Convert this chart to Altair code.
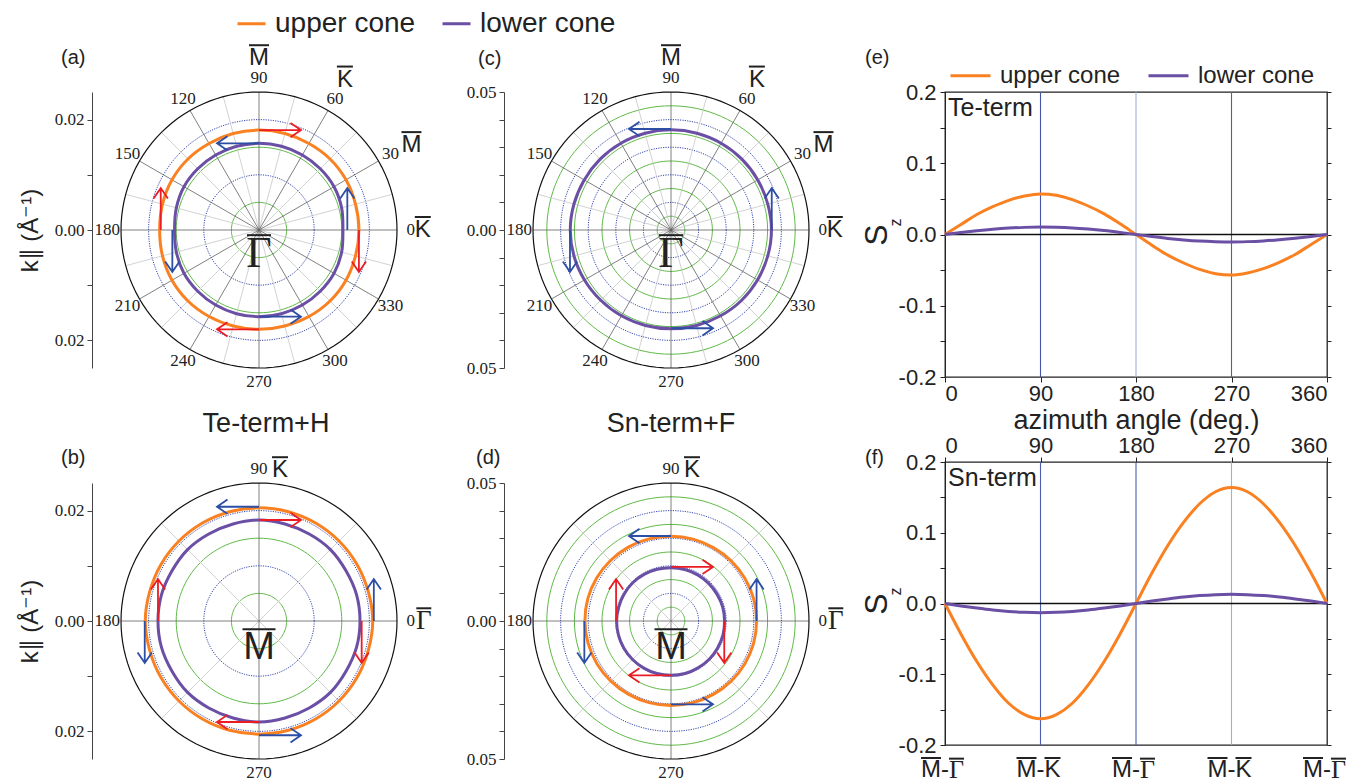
import math
import pandas as pd
import altair as alt

# ---------------------------------------------------------------- data
CONES = ["upper cone", "lower cone"]

# azimuths (deg) at which the constant-energy contours were read
CONTOUR_ANGLES = list(range(0, 360, 15))

# (a) Te-term, contours around Gamma-bar  (k in 1/Angstrom)
A_UPPER = [0.0181, 0.0181, 0.0182, 0.0182, 0.0181, 0.0181, 0.0181, 0.0181,
           0.0181, 0.0182, 0.0182, 0.0181, 0.0180, 0.0181, 0.0182, 0.0182,
           0.0181, 0.0180, 0.0180, 0.0180, 0.0181, 0.0182, 0.0182, 0.0181]
A_LOWER = [0.0152, 0.0155, 0.0157, 0.0157, 0.0157, 0.0157, 0.0157, 0.0157,
           0.0157, 0.0157, 0.0157, 0.0155, 0.0153, 0.0155, 0.0157, 0.0157,
           0.0157, 0.0157, 0.0157, 0.0157, 0.0157, 0.0157, 0.0157, 0.0155]
# (b) Te-term+H, contours around M-bar
B_UPPER = [0.0206, 0.0205, 0.0205, 0.0205, 0.0205, 0.0205, 0.0205, 0.0205,
           0.0205, 0.0205, 0.0205, 0.0205, 0.0206, 0.0205, 0.0205, 0.0205,
           0.0205, 0.0205, 0.0205, 0.0205, 0.0205, 0.0205, 0.0205, 0.0205]
B_LOWER = [0.0183, 0.0183, 0.0182, 0.0183, 0.0182, 0.0182, 0.0183, 0.0182,
           0.0182, 0.0183, 0.0182, 0.0183, 0.0183, 0.0183, 0.0182, 0.0183,
           0.0182, 0.0182, 0.0183, 0.0182, 0.0182, 0.0183, 0.0182, 0.0183]
# (c) Sn-term, contour around Gamma-bar
C_LOWER = [0.0364, 0.0363, 0.0363, 0.0363, 0.0363, 0.0363, 0.0363, 0.0363,
           0.0363, 0.0363, 0.0363, 0.0364, 0.0365, 0.0364, 0.0362, 0.0360,
           0.0359, 0.0358, 0.0358, 0.0358, 0.0359, 0.0361, 0.0362, 0.0363]
# (d) Sn-term+F, contours around M-bar
D_UPPER = [0.0310, 0.0310, 0.0309, 0.0308, 0.0307, 0.0307, 0.0307, 0.0308,
           0.0309, 0.0310, 0.0311, 0.0312, 0.0312, 0.0311, 0.0310, 0.0308,
           0.0307, 0.0306, 0.0306, 0.0306, 0.0307, 0.0308, 0.0309, 0.0310]
D_LOWER = [0.0194, 0.0194, 0.0193, 0.0193, 0.0193, 0.0193, 0.0193, 0.0194,
           0.0195, 0.0196, 0.0196, 0.0196, 0.0197, 0.0197, 0.0197, 0.0197,
           0.0197, 0.0197, 0.0197, 0.0197, 0.0196, 0.0196, 0.0195, 0.0195]

# in-plane spin arrows: azimuth of the tail, |k| of the tail, sense of rotation
ARROW_ANGLES = [0, 90, 180, 270]
A_RED_R = [0.0181, 0.0181, 0.0178, 0.0180]
A_BLUE_R = [0.0160, 0.0157, 0.0157, 0.0157]
B_RED_R = [0.0186, 0.0183, 0.0183, 0.0183]
B_BLUE_R = [0.0208, 0.0207, 0.0207, 0.0207]
C_BLUE_R = [0.0365, 0.0366, 0.0366, 0.0356]
D_RED_R = [0.0193, 0.0196, 0.0199, 0.0197]
D_BLUE_R = [0.0310, 0.0308, 0.0314, 0.0302]
RED_SENSE = "cw"
BLUE_SENSE = "ccw"

# polar grid
RING_AB_GREEN = [0.005, 0.015]
RING_AB_BLUE = [0.01, 0.02]
OUTER_AB = 0.025
RING_CD_GREEN = [0.005, 0.015, 0.025, 0.035, 0.045]
RING_CD_BLUE = [0.01, 0.02, 0.03, 0.04]
OUTER_CD = 0.05
SPOKES_AC_MAJOR = list(range(0, 360, 30))
SPOKES_AC_MINOR = list(range(15, 360, 30))
SPOKES_BD_MAJOR = [0, 90, 180, 270]
SPOKES_BD_MINOR = [45, 135, 225, 315]
ANGLE_LABELS_AC = list(range(0, 360, 30))
ANGLE_LABELS_BD = [0, 90, 180, 270]
K_TICKS_AB = [-0.02, -0.01, 0.0, 0.01, 0.02]
K_LABELS_AB = [-0.02, 0.0, 0.02]
K_TICKS_CD = [-0.05, -0.04, -0.03, -0.02, -0.01, 0.0, 0.01, 0.02, 0.03, 0.04, 0.05]
K_LABELS_CD = [-0.05, 0.0, 0.05]

GAMMA = "\u0393"
# high-symmetry points (drawn with an over-bar) next to the azimuth labels
SYM_AC = [(90, "M"), (60, "K"), (30, "M"), (0, "K")]
SYM_BD = [(90, "K"), (0, GAMMA)]

# (e), (f) out-of-plane spin Sz vs azimuth
SZ_ANGLES = list(range(0, 361, 15))
E_UPPER = [0, 0.014, 0.028, 0.039, 0.048, 0.054, 0.057, 0.055, 0.049, 0.040, 0.029, 0.015, 0.0,
           -0.015, -0.029, -0.040, -0.049, -0.055, -0.057, -0.054, -0.048, -0.039, -0.028, -0.014, 0]
E_LOWER = [0, 0.0028, 0.0053, 0.0074, 0.0090, 0.0100, 0.0104, 0.0101, 0.0092, 0.0076, 0.0055, 0.0029, 0.0,
           -0.0029, -0.0055, -0.0076, -0.0092, -0.0101, -0.0105, -0.0100, -0.0090, -0.0074, -0.0053, -0.0028, 0]
F_UPPER = [0, -0.043, -0.082, -0.115, -0.141, -0.157, -0.163, -0.157, -0.141, -0.115, -0.082, -0.043, 0.0,
           0.043, 0.082, 0.115, 0.141, 0.158, 0.164, 0.158, 0.141, 0.115, 0.082, 0.043, 0]
F_LOWER = [0, -0.0034, -0.0065, -0.0092, -0.0112, -0.0125, -0.0130, -0.0125, -0.0112, -0.0092, -0.0065, -0.0034, 0.0,
           0.0034, 0.0065, 0.0092, 0.0112, 0.0125, 0.0130, 0.0125, 0.0112, 0.0092, 0.0065, 0.0034, 0]
SZ_TICKS = [0, 90, 180, 270, 360]
SZ_Y_TICKS = [-0.2, -0.15, -0.1, -0.05, 0.0, 0.05, 0.1, 0.15, 0.2]
SZ_Y_LABELS = [-0.2, -0.1, 0.0, 0.1, 0.2]
SZ_GUIDES = [90, 180, 270]
ZERO = [0.0]
# (f) bottom labels: path segments  M-bar - X-bar
F_BOTTOM_FROM = ["M", "M", "M", "M", "M"]
F_BOTTOM_TO = [GAMMA, "K", GAMMA, "K", GAMMA]

# ---------------------------------------------------------------- style
ORANGE = "#f98121"
PURPLE = "#6a4fa5"
RED = "#ec1c24"
BLUE_ARROW = "#2d4ea5"
GREEN = "#5fba46"
BLUE_RING = "#3346b0"
E_GUIDE_COLORS = ["#4257a8", "#9db0da", "#4a5fb0"]
F_GUIDE_COLORS = ["#4a5fb0", "#4a5fb0", "#9db0da"]
SANS = "Liberation Sans"
SERIF = "Liberation Serif"
TXT = "#222222"
LABEL_RF = 1.10
ARROW_PATH = "M0,0L1,0M0.75,-0.17L1,0L0.75,0.17"
ARROW_SIZE = 7056  # 42 px long
POLAR = 276
COLOR_SCALE = alt.Scale(domain=CONES, range=[ORANGE, PURPLE])
# font, size, bar width of each high-symmetry letter
SYM_STYLE = {"M": (SANS, 24, 20), "K": (SANS, 24, 16), GAMMA: (SERIF, 27, 15)}
PATH_STYLE = {"M": (SANS, 24, 20), "K": (SANS, 24, 16), GAMMA: (SERIF, 26, 15)}


def xy(r, deg):
    t = math.radians(deg)
    return r * math.cos(t), r * math.sin(t)


def rings_df(radii):
    rows = []
    for k, r in enumerate(radii):
        for j, a in enumerate(range(0, 361, 3)):
            x, y = xy(r, a)
            rows.append({"ring": k, "i": j, "x": x, "y": y})
    return pd.DataFrame(rows)


def spokes_df(angles, R):
    rows = []
    for a in angles:
        x, y = xy(R, a)
        rows.append({"x": 0.0, "y": 0.0, "x2": x, "y2": y})
    return pd.DataFrame(rows)


def contour_df(contours):
    rows = []
    for cone, rs in contours:
        for i, (a, r) in enumerate(zip(CONTOUR_ANGLES, rs)):
            x, y = xy(r, a)
            rows.append({"cone": cone, "i": i, "x": x, "y": y})
    return pd.DataFrame(rows)


def arrows_df(rs, sense):
    rows = []
    for a, r in zip(ARROW_ANGLES, rs):
        x, y = xy(r, a)
        rot = (-(a + 90)) % 360 if sense == "ccw" else (90 - a) % 360
        rows.append({"x": x, "y": y, "rot": rot})
    return pd.DataFrame(rows)


def k_axis(ticks, labelled, title):
    arr = ",".join(repr(v) for v in labelled)
    kw = dict(values=ticks,
              labelExpr=f"indexof([{arr}], datum.value) >= 0 ? format(abs(datum.value), '.2f') : ''",
              offset=29, labelFont=SERIF, labelFontSize=17, labelColor=TXT,
              domainColor="#444", tickColor="#444", tickSize=5, labelPadding=3, grid=False)
    if title:
        kw.update(title=title, titleFont=SANS, titleFontSize=24, titleFontWeight="normal",
                  titleColor=TXT, titlePadding=12)
    else:
        kw.update(title=None)
    return alt.Axis(**kw)


def text_layer(t, x, y, size, align="left", font=SANS):
    return alt.Chart(pd.DataFrame({"t": [t]})).mark_text(
        font=font, fontSize=size, align=align, baseline="middle", color=TXT
    ).encode(x=alt.value(x), y=alt.value(y), text="t:N")


def bar_dy(font, size, dy, gap=3):
    cap = 0.66 if font == SERIF else 0.716
    return dy + 0.30 * size - cap * size - gap


def barred_label(X, Y, px, py, t, font, size, width, dx, dy):
    """letter plus over-bar, anchored at data point (px, py)"""
    d = pd.DataFrame({"x": [px], "y": [py], "t": [t]})
    return [
        alt.Chart(d).mark_text(font=font, fontSize=size, color=TXT, align="center",
                               baseline="middle", dx=dx, dy=dy).encode(x=X, y=Y, text="t:N"),
        alt.Chart(d).mark_tick(orient="horizontal", size=width, thickness=2, color=TXT, opacity=1,
                               xOffset=dx, yOffset=bar_dy(font, size, dy)).encode(x=X, y=Y),
    ]


def polar_panel(R, green, blue, sp_major, sp_minor, ang_labels, sym, sym_offsets, center,
                contours, red_r, blue_r, ticks, labelled, ytitle, letter, letter_pos,
                title=None, title_pos=None, legend=None):
    sc = alt.Scale(domain=[-R, R], nice=False, zero=False)
    X = alt.X("x:Q", scale=sc, axis=None)
    Y = alt.Y("y:Q", scale=sc, axis=k_axis(ticks, labelled, ytitle))
    layers = [
        alt.Chart(rings_df(green)).mark_line(color=GREEN, strokeWidth=1).encode(
            x=X, y=Y, detail="ring:N", order="i:Q"),
        alt.Chart(rings_df(blue)).mark_line(color=BLUE_RING, strokeWidth=1, strokeDash=[1.2, 1.2]).encode(
            x=X, y=Y, detail="ring:N", order="i:Q"),
        alt.Chart(spokes_df(sp_minor, R)).mark_rule(color="#c6c6c6", strokeWidth=0.8).encode(
            x=X, y=Y, x2="x2:Q", y2="y2:Q"),
        alt.Chart(spokes_df(sp_major, R)).mark_rule(color="#606060", strokeWidth=0.8).encode(
            x=X, y=Y, x2="x2:Q", y2="y2:Q"),
        alt.Chart(rings_df([R])).mark_line(color="#111", strokeWidth=1.2).encode(
            x=X, y=Y, detail="ring:N", order="i:Q"),
        alt.Chart(contour_df(contours)).mark_line(strokeWidth=3, interpolate="cardinal-closed").encode(
            x=X, y=Y, order="i:Q",
            color=alt.Color("cone:N", scale=COLOR_SCALE, legend=legend)),
    ]
    if red_r:
        layers.append(alt.Chart(arrows_df(red_r, RED_SENSE)).mark_point(
            shape=ARROW_PATH, size=ARROW_SIZE, filled=False, color=RED, strokeWidth=1.8, opacity=1
        ).encode(x=X, y=Y, angle=alt.Angle("rot:Q", scale=None)))
    if blue_r:
        layers.append(alt.Chart(arrows_df(blue_r, BLUE_SENSE)).mark_point(
            shape=ARROW_PATH, size=ARROW_SIZE, filled=False, color=BLUE_ARROW, strokeWidth=1.8, opacity=1
        ).encode(x=X, y=Y, angle=alt.Angle("rot:Q", scale=None)))
    lab = pd.DataFrame([{"x": xy(R * LABEL_RF, a)[0], "y": xy(R * LABEL_RF, a)[1], "t": str(a)}
                        for a in ang_labels])
    layers.append(alt.Chart(lab).mark_text(font=SERIF, fontSize=17, color=TXT, align="center",
                                           baseline="middle").encode(x=X, y=Y, text="t:N"))
    for (a, t), (dx, dy) in zip(sym, sym_offsets):
        px, py = xy(R * LABEL_RF, a)
        font, size, width = SYM_STYLE[t]
        layers += barred_label(X, Y, px, py, t, font, size, width, dx, dy)
    ct, cfont, csize, cwidth, cdy = center
    layers += barred_label(X, Y, 0.0, 0.0, ct, cfont, csize, cwidth, 0, cdy)
    layers.append(text_layer(letter, letter_pos[0], letter_pos[1], 20))
    if title:
        layers.append(text_layer(title, title_pos[0], title_pos[1], 27, align="center"))
    return alt.layer(*layers).properties(width=POLAR, height=POLAR)


def path_labels(xs, height):
    """bottom labels of (f): 'M-bar - X-bar' under each tick"""
    yb = height + 25
    df = pd.DataFrame({"a": SZ_TICKS, "p": F_BOTTOM_FROM, "q": F_BOTTOM_TO, "h": ["-"] * len(SZ_TICKS)})
    X = alt.X("a:Q", scale=xs, axis=None)
    out = [alt.Chart(df).mark_text(font=SANS, fontSize=24, color=TXT, align="center",
                                   baseline="middle").encode(x=X, y=alt.value(yb), text="h:N")]
    for letter in sorted(set(F_BOTTOM_FROM)):
        font, size, w = PATH_STYLE[letter]
        sub = df[df["p"] == letter]
        out.append(alt.Chart(sub).mark_text(font=font, fontSize=size, color=TXT, align="right",
                                            baseline="middle", dx=-4).encode(x=X, y=alt.value(yb), text="p:N"))
        out.append(alt.Chart(sub).mark_tick(orient="horizontal", size=w, thickness=2, color=TXT, opacity=1,
                                            xOffset=-4 - w / 2).encode(
            x=X, y=alt.value(yb + bar_dy(font, size, 0, gap=2))))
    for letter in sorted(set(F_BOTTOM_TO)):
        font, size, w = PATH_STYLE[letter]
        sub = df[df["q"] == letter]
        out.append(alt.Chart(sub).mark_text(font=font, fontSize=size, color=TXT, align="left",
                                            baseline="middle", dx=4).encode(x=X, y=alt.value(yb), text="q:N"))
        out.append(alt.Chart(sub).mark_tick(orient="horizontal", size=w, thickness=2, color=TXT, opacity=1,
                                            xOffset=4 + w / 2).encode(
            x=X, y=alt.value(yb + bar_dy(font, size, 0, gap=2))))
    return out


def sz_panel(upper, lower, guide_colors, label, letter, letter_pos, height, bottom_axis,
             top_axis=None, legend=None, path=False):
    xs = alt.Scale(domain=[0, 360], nice=False, zero=False)
    ys = alt.Scale(domain=[-0.2, 0.2], nice=False, zero=False)
    arr = ",".join(repr(v) for v in SZ_Y_LABELS)
    yleft = alt.Axis(values=SZ_Y_TICKS,
                     labelExpr=f"indexof([{arr}], datum.value) >= 0 ? (datum.value < 0 ? '-' : '') + format(abs(datum.value), '.1f') : ''",
                     title="S", titleFont=SANS, titleFontSize=32, titleFontWeight="normal",
                     titleColor=TXT, titlePadding=5, labelFont=SANS, labelFontSize=22,
                     labelColor=TXT, tickSize=5, labelPadding=4, domainColor="#222",
                     tickColor="#222", grid=False)
    yright = alt.Axis(orient="right", values=SZ_Y_TICKS, labels=False, domain=False, tickSize=4,
                      tickColor="#222", title=None, grid=False)
    guides = pd.DataFrame({"a": SZ_GUIDES, "c": guide_colors})
    curves = pd.DataFrame(
        [{"angle": a, "sz": v, "cone": CONES[0]} for a, v in zip(SZ_ANGLES, upper)]
        + [{"angle": a, "sz": v, "cone": CONES[1]} for a, v in zip(SZ_ANGLES, lower)])
    layers = [
        alt.Chart(guides).mark_rule(strokeWidth=1.1).encode(
            x=alt.X("a:Q", scale=xs, axis=top_axis), stroke=alt.Stroke("c:N", scale=None)),
        alt.Chart(pd.DataFrame({"v": ZERO})).mark_rule(color="#111", strokeWidth=1.4).encode(
            y=alt.Y("v:Q", scale=ys, axis=yright)),
        alt.Chart(curves).mark_line(strokeWidth=3, interpolate="monotone").encode(
            x=alt.X("angle:Q", scale=xs, axis=bottom_axis),
            y=alt.Y("sz:Q", scale=ys, axis=yleft),
            color=alt.Color("cone:N", scale=COLOR_SCALE, legend=legend)),
        text_layer(label, 3, 16, 25),
        text_layer(letter, letter_pos[0], letter_pos[1], 20),
        alt.Chart(pd.DataFrame({"t": ["z"]})).mark_text(
            font=SANS, fontSize=16, color=TXT, angle=270, align="center", baseline="middle"
        ).encode(x=alt.value(-49), y=alt.value(height / 2 - 12), text="t:N"),
    ]
    if path:
        layers += path_labels(xs, height)
    return alt.layer(*layers).resolve_axis(x="independent", y="independent").properties(
        width=382, height=height,
        view=alt.ViewBackground(stroke="#222", strokeWidth=1.3))


# ---------------------------------------------------------------- panels
KT = "k\u2225 (\u00c5\u207b\u00b9)"
legend_top = alt.Legend(orient="none", legendX=115, legendY=-84, direction="horizontal", title=None,
                        symbolType="stroke", symbolSize=784, symbolStrokeWidth=3,
                        labelFont=SANS, labelFontSize=28, labelColor=TXT, labelOffset=8,
                        columnPadding=20)
legend_e = alt.Legend(orient="none", legendX=4, legendY=-38, direction="horizontal", title=None,
                      symbolType="stroke", symbolSize=1600, symbolStrokeWidth=3,
                      labelFont=SANS, labelFontSize=24, labelColor=TXT, labelOffset=8,
                      columnPadding=21)

OFF_AC = [(0, -20), (10, -19), (21, -9), (12, 0)]
OFF_BD = [(21, 1), (13, 0)]

pa = polar_panel(OUTER_AB, RING_AB_GREEN, RING_AB_BLUE, SPOKES_AC_MAJOR, SPOKES_AC_MINOR,
                 ANGLE_LABELS_AC, SYM_AC, OFF_AC, (GAMMA, SERIF, 44, 24, 24),
                 [(CONES[0], A_UPPER), (CONES[1], A_LOWER)], A_RED_R, A_BLUE_R,
                 K_TICKS_AB, K_LABELS_AB, KT, "(a)", (-60, -34), legend=legend_top)
pb = polar_panel(OUTER_AB, RING_AB_GREEN, RING_AB_BLUE, SPOKES_BD_MAJOR, SPOKES_BD_MINOR,
                 ANGLE_LABELS_BD, SYM_BD, OFF_BD, ("M", SANS, 38, 33, 27),
                 [(CONES[0], B_UPPER), (CONES[1], B_LOWER)], B_RED_R, B_BLUE_R,
                 K_TICKS_AB, K_LABELS_AB, KT, "(b)", (-60, -25),
                 title="Te-term+H", title_pos=(145, -59))
pc = polar_panel(OUTER_CD, RING_CD_GREEN, RING_CD_BLUE, SPOKES_AC_MAJOR, SPOKES_AC_MINOR,
                 ANGLE_LABELS_AC, SYM_AC, OFF_AC, (GAMMA, SERIF, 44, 24, 24),
                 [(CONES[1], C_LOWER)], None, C_BLUE_R,
                 K_TICKS_CD, K_LABELS_CD, None, "(c)", (-55, -33))
pd_ = polar_panel(OUTER_CD, RING_CD_GREEN, RING_CD_BLUE, SPOKES_BD_MAJOR, SPOKES_BD_MINOR,
                  ANGLE_LABELS_BD, SYM_BD, OFF_BD, ("M", SANS, 38, 33, 27),
                  [(CONES[0], D_UPPER), (CONES[1], D_LOWER)], D_RED_R, D_BLUE_R,
                  K_TICKS_CD, K_LABELS_CD, None, "(d)", (-57, -25),
                  title="Sn-term+F", title_pos=(138, -59))

axis_e = alt.Axis(values=SZ_TICKS, format="d", labelFont=SANS, labelFontSize=22, labelColor=TXT,
                  tickSize=5, tickColor="#222", domain=False, labelPadding=1, grid=False,
                  title="azimuth angle (deg.)", titleFont=SANS, titleFontSize=27,
                  titleFontWeight="normal", titleColor=TXT, titlePadding=3)
axis_f_top = alt.Axis(orient="top", values=SZ_TICKS, format="d", labelFont=SANS, labelFontSize=22,
                      labelColor=TXT, tickSize=5, tickColor="#222", domain=False, labelPadding=0,
                      grid=False, title=None)

pe = sz_panel(E_UPPER, E_LOWER, E_GUIDE_COLORS, "Te-term", "(e)", (-80, -34), 285, axis_e,
              top_axis=None, legend=legend_e)
pf = sz_panel(F_UPPER, F_LOWER, F_GUIDE_COLORS, "Sn-term", "(f)", (-80, -4), 283, None,
              top_axis=axis_f_top, legend=None, path=True)

col1 = alt.vconcat(pa, pb, spacing=115, bounds="flush").resolve_scale(color="independent")
col2 = alt.vconcat(pc, pd_, spacing=115, bounds="flush").resolve_scale(color="independent")
col3 = alt.vconcat(pe, pf, spacing=85, bounds="flush").resolve_scale(color="independent")

chart = alt.hconcat(col1, col2, col3, spacing=412, bounds="flush",
                    padding={"left": 10, "top": 0, "right": 0, "bottom": 0}
                    ).resolve_scale(color="independent").configure(font=SANS).configure_view(
                        stroke="transparent", strokeWidth=0)

chart.save("out.html", embed_options={"renderer": "svg", "actions": False})
